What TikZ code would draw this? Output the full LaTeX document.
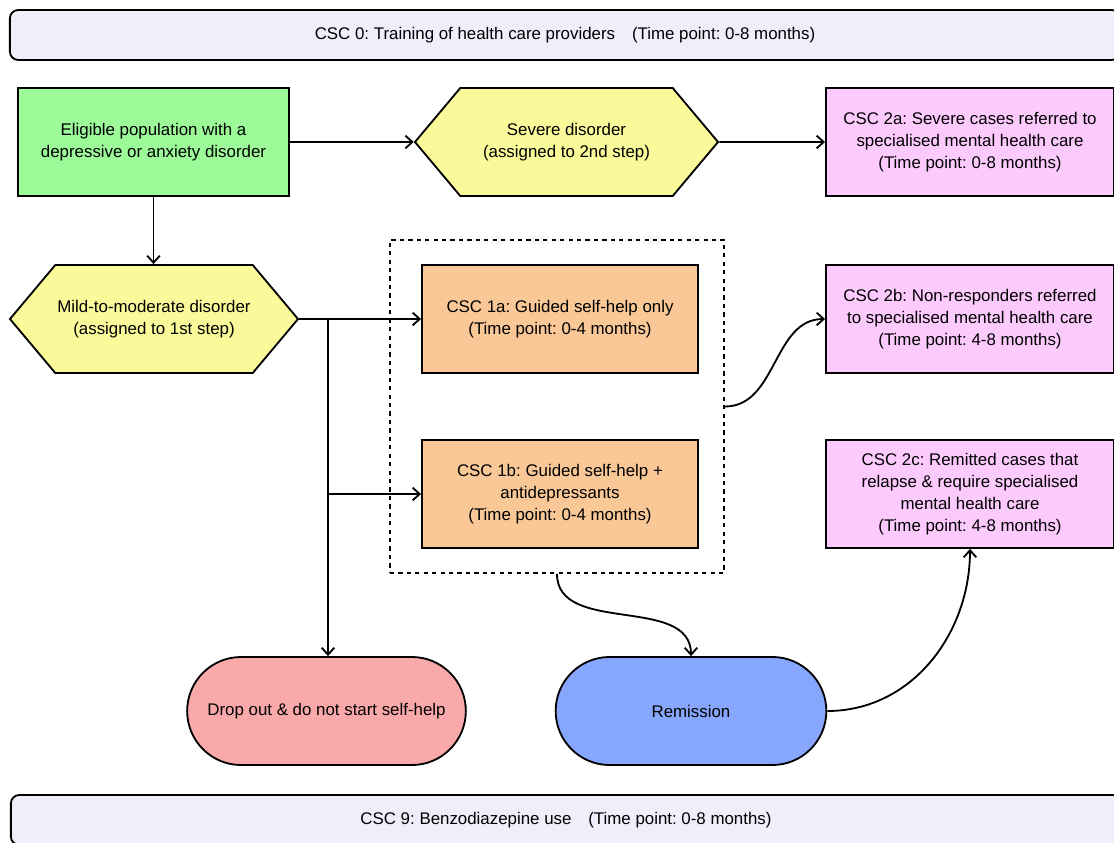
\documentclass[tikz,border=0pt]{standalone}
\usepackage{fontspec}
\setmainfont{Liberation Sans}
\usepackage{tikz}
\usetikzlibrary{arrows.meta,shapes.symbols,shapes.misc}
\frenchspacing

\definecolor{barfill}{HTML}{EFEFFC}
\definecolor{greenfill}{HTML}{9CFA99}
\definecolor{yellowfill}{HTML}{FAFA9A}
\definecolor{pinkfill}{HTML}{FDCAFD}
\definecolor{orangefill}{HTML}{F9C896}
\definecolor{redfill}{HTML}{F9A9A9}
\definecolor{bluefill}{HTML}{87A6FD}

\begin{document}
\begin{tikzpicture}[x=0.025cm,y=-0.025cm,font=\fontsize{12}{15.5}\selectfont]
		\tikzset{box/.style = {shape=rectangle,draw,line width=1.3pt,align=center,minimum height=2.7cm}}
		\tikzset{hexa/.style = {shape=signal,signal to=east and west,signal pointer angle=100,draw,line width=1.3pt,fill=yellowfill,align=center,minimum height=2.7cm,inner sep=0pt}}
		\tikzset{pill/.style = {shape=rounded rectangle,draw,line width=1.3pt,align=center,minimum height=2.7cm}}
		\tikzset{bar/.style = {shape=rectangle,rounded corners=6pt,draw,line width=1.3pt,fill=barfill,minimum width=27.75cm,minimum height=1.25cm,font=\fontsize{12}{14}\selectfont}}
		\tikzset{edge/.style = {line width=1.3pt,-{Straight Barb[length=5pt,width=9pt]}}}
		
		\useasboundingbox (0,0) rectangle (1114,843);
		
		% bars
		\node[bar] (csc0) at (565,35) {CSC 0: Training of health care providers\quad (Time point: 0-8 months)};
		\node[bar] (csc9) at (566,820) {CSC 9: Benzodiazepine use\quad (Time point: 0-8 months)};
		
		% first step group
		\node[draw,dashed,line width=1.3pt,minimum width=8.35cm,minimum height=8.325cm] (grp) at (557,406.5) {};
		
		\node[box,fill=greenfill,minimum width=6.775cm] (elig) at (153.5,142) {Eligible population with a\\depressive or anxiety disorder};
		\node[hexa,minimum width=7.575cm] (severe) at (566.5,142) {Severe disorder\\(assigned to 2nd step)};
		\node[hexa,minimum width=7.2cm] (mild) at (154,319) {Mild-to-moderate disorder\\(assigned to 1st step)};
		
		\node[box,fill=orangefill,minimum width=6.9cm] (csc1a) at (560,319) {CSC 1a: Guided self-help only\\(Time point: 0-4 months)};
		\node[box,fill=orangefill,minimum width=6.9cm] (csc1b) at (560,494) {CSC 1b: Guided self-help +\\antidepressants\\(Time point: 0-4 months)};
		
		\node[box,fill=pinkfill,minimum width=7.2cm] (csc2a) at (970,142) {CSC 2a: Severe cases referred to\\specialised mental health care\\(Time point: 0-8 months)};
		\node[box,fill=pinkfill,minimum width=7.2cm] (csc2b) at (970,319) {CSC 2b: Non-responders referred\\to specialised mental health care\\(Time point: 4-8 months)};
		\node[box,fill=pinkfill,minimum width=7.2cm] (csc2c) at (970,494) {CSC 2c: Remitted cases that\\relapse \& require specialised\\mental health care\\(Time point: 4-8 months)};
		
		\node[pill,fill=redfill,minimum width=7.2cm] (drop) at (326.5,711) {Drop out \& do not start self-help};
		\node[pill,fill=bluefill,minimum width=7cm] (remis) at (691,711) {Remission};
		
		\coordinate (j1) at (328,319);
		\coordinate (j2) at (328,494);
		
		\draw[edge] (elig) -- (severe);
		\draw[edge] (severe) -- (csc2a);
		\draw[edge] (elig) -- (elig |- mild.north);
		\draw[edge] (mild.east) -- (csc1a.west);
		\draw[edge] (j1) -- (j1 |- drop.north);
		\draw[edge] (j2) -- (csc1b.west);
		\draw[edge] (grp.east) to[out=0,in=180] (csc2b.west);
		\draw[edge] (grp.south) to[out=-90,in=90] (remis.north);
		\draw[edge] (remis.east) to[out=0,in=-90] (csc2c.south);
\end{tikzpicture}
\end{document}
